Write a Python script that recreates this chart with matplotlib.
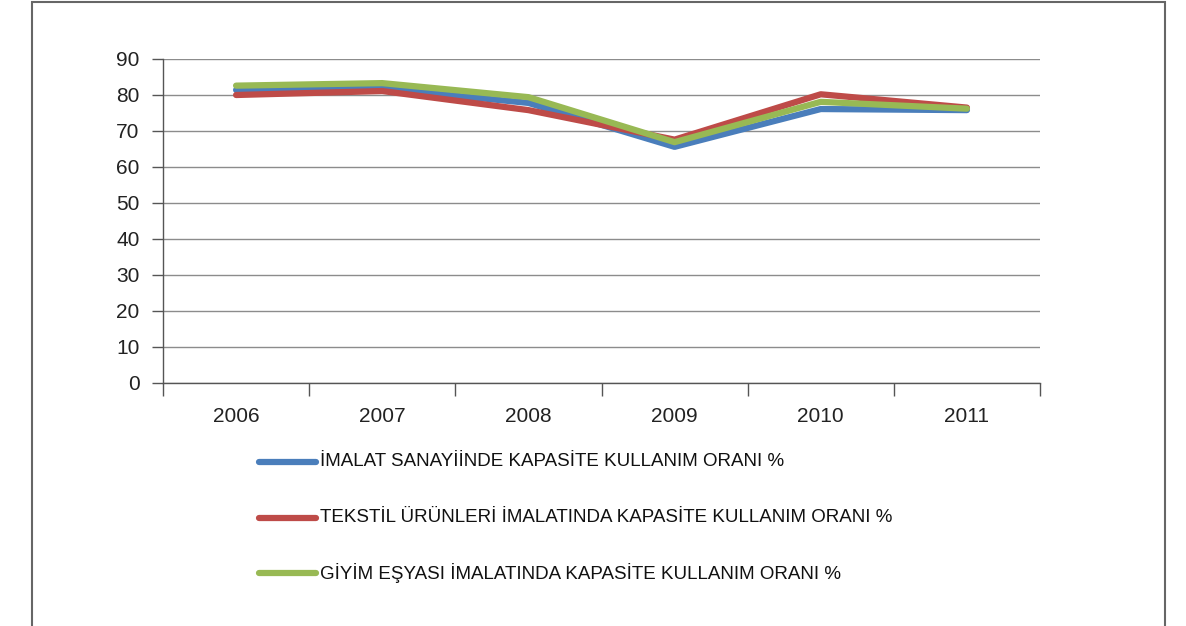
import matplotlib.pyplot as plt
from matplotlib.patches import Rectangle
from matplotlib.lines import Line2D

years = ['2006', '2007', '2008', '2009', '2010', '2011']
imalat = [81.4, 81.8, 77.8, 65.6, 76.1, 75.8]
tekstil = [80.0, 81.1, 75.8, 67.6, 80.2, 76.5]
giyim = [82.6, 83.3, 79.4, 66.9, 78.1, 76.2]
labels = ['İMALAT SANAYİİNDE KAPASİTE KULLANIM ORANI %',
          'TEKSTİL ÜRÜNLERİ İMALATINDA KAPASİTE KULLANIM ORANI %',
          'GİYİM EŞYASI İMALATINDA KAPASİTE KULLANIM ORANI %']
colors = ['#4a7ebb', '#be4b48', '#98b954']

plt.rcParams['font.family'] = ['Liberation Sans', 'DejaVu Sans']

W, H = 1186, 626
fig = plt.figure(figsize=(W / 100, H / 100), dpi=100)
fig.patches.append(Rectangle((32 / W, -0.05), (1165 - 32) / W, 1.05 - 2 / H,
                             transform=fig.transFigure, fill=False,
                             edgecolor='#666666', lw=1.5))

ax = fig.add_axes([163 / W, 1 - 383 / H, (1040 - 163) / W, (383 - 59) / H])
x = range(len(years))
lines = []
for vals, c, lab in zip([imalat, tekstil, giyim], colors, labels):
    ln, = ax.plot(x, vals, color=c, lw=4.5, solid_capstyle='round',
                  solid_joinstyle='round', label=lab)
    lines.append(ln)

ax.set_xlim(-0.5, len(years) - 0.5)
ax.set_ylim(0, 90)
ax.set_yticks(range(0, 91, 10))
ax.grid(axis='y', color='#8c8c8c', lw=1)
ax.set_axisbelow(True)
ax.set_xticks(list(x))
ax.set_xticklabels(years)
ax.set_xticks([i - 0.5 for i in range(len(years) + 1)], minor=True)
ax.tick_params(axis='x', which='major', length=0, pad=17, labelsize=15, colors='#222222')
ax.tick_params(axis='x', which='minor', length=9, width=1, color='#555555')
ax.tick_params(axis='y', length=8, width=1, color='#555555', pad=9, labelsize=15,
               labelcolor='#222222')
for s in ['top', 'right']:
    ax.spines[s].set_visible(False)
for s in ['left', 'bottom']:
    ax.spines[s].set_color('#555555')
    ax.spines[s].set_linewidth(1)

# legend rows drawn by hand so they keep an even spacing
for i, ln in enumerate(lines):
    yy = 1 - (462 + 55.5 * i) / H
    fig.add_artist(Line2D([259 / W, 316 / W], [yy, yy], transform=fig.transFigure,
                          color=ln.get_color(), lw=4.5, solid_capstyle='round'))
    fig.text(320 / W, yy, ln.get_label(), va='center', ha='left', fontsize=13.5,
             color='#111111')

fig.savefig('out.png', dpi=100)
